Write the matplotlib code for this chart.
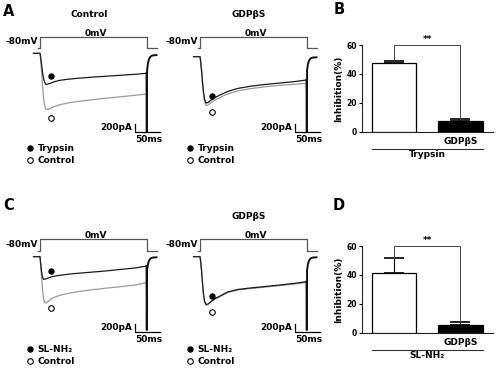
import matplotlib
matplotlib.use("Agg")
import matplotlib.pyplot as plt
from matplotlib.lines import Line2D

plt.rcParams['font.family'] = ['DejaVu Sans']
plt.rcParams['font.weight'] = 'bold'
plt.rcParams['axes.labelweight'] = 'bold'

W, H = 502, 373

# ---------------- whole-cell currents (ms, pA) ----------------
t_ms = [-13, 0, 1, 3, 5, 7, 9, 12, 16, 22, 30, 40, 55, 75, 100, 130, 160, 190, 213]

# A, control pipette: trypsin (black) vs control (gray)
a_ctrl_drug = [0, 0, -68, -268, -468, -618, -718, -780, -768, -743, -705, -675,
               -650, -625, -600, -575, -550, -525, -500]
a_ctrl_base = [0, 0, -93, -418, -793, -1093, -1293, -1405, -1405, -1368, -1325, -1285,
               -1243, -1205, -1168, -1125, -1088, -1050, -1018]
# A, GDPbS pipette
a_gdp_drug = [0, 0, -83, -333, -633, -883, -1058, -1158, -1145, -1083, -1020, -958,
              -870, -795, -740, -695, -658, -620, -583]
a_gdp_base = [0, 0, -83, -333, -658, -933, -1108, -1220, -1208, -1145, -1083, -1020,
              -933, -858, -800, -753, -715, -688, -665]
# C, control pipette: SL-NH2 (black) vs control (gray)
c_ctrl_drug = [0, 0, -133, -358, -508, -565, -565, -553, -533, -508, -483, -465,
               -440, -415, -390, -358, -320, -283, -233]
c_ctrl_base = [0, 0, -158, -483, -808, -1033, -1145, -1158, -1120, -1058, -1008, -965,
               -920, -875, -833, -790, -750, -708, -650]
# C, GDPbS pipette
c_gdp_drug = [0, 0, -83, -333, -658, -933, -1108, -1195, -1183, -1120, -1045, -983,
              -883, -820, -783, -745, -708, -665, -625]
c_gdp_base = [0, 0, -83, -333, -665, -945, -1120, -1210, -1198, -1135, -1060, -998,
              -898, -835, -798, -760, -722, -680, -640]

# tail after the step back to -80 mV
t_tail = [213, 213.6, 214.2, 216, 218, 221, 226, 233]
a_ctrl_tail = [-500, -1960, -420, -245, -145, -80, -50, -45]
a_gdp_tail = [-583, -1875, -330, -180, -95, -45, -20, -15]
c_ctrl_tail = [-233, -1833, -330, -180, -95, -45, -20, -15]
c_gdp_tail = [-625, -1833, -330, -180, -95, -45, -20, -15]

# symbols next to the traces (ms, pA): filled, open
a_ctrl_dots = ([22, 22], [-568, -1618])
a_gdp_dots = ([24, 24], [-983, -1383])
c_ctrl_dots = ([21, 21], [-358, -1290])
c_gdp_dots = ([23, 23], [-983, -1375])

# voltage protocol
prot_t = [-5, 0, 0, 213, 213, 233]
prot_mv = [-80, -80, 0, 0, -80, -80]

# ---------------- inhibition bars ----------------
bar_x = [0, 1]
bar_names = ['', 'GDP\u03b2S']
b_inhib = [47.5, 7.6]
b_sem = [1.6, 1.2]
d_inhib = [41.6, 5.3]
d_sem = [9.9, 2.3]

FS = 6.5
fig = plt.figure(figsize=(W / 100, H / 100), dpi=100)


def px_axes(x0, y0, x1, y1):
    return fig.add_axes([x0 / W, 1 - y1 / H, (x1 - x0) / W, (y1 - y0) / H])


def ftext(x, y, s, **kw):
    fig.text(x / W, 1 - y / H, s, **kw)


def trace_panel(ox, oy, ptop, pbot, drug, base, tail, dots, sb0, title=None, legend=None):
    # protocol axes (mV)
    s = (pbot - ptop) / 80.0
    axp = px_axes(ox - 20, ptop - 60 * s, ox + 130, pbot + 60 * s)
    axp.set_xlim(-40, 260)
    axp.set_ylim(-140, 60)
    axp.axis('off')
    axp.plot(prot_t, prot_mv, color='#555555', lw=0.9)
    axp.text(-5, -32, '-80mV', ha='right', va='center', fontsize=FS)
    axp.text(112, 12, '0mV', ha='center', va='baseline', fontsize=FS)

    # current axes (pA), 0.5 px per ms, 0.04 px per pA
    ax = px_axes(ox - 20, oy - 24, ox + 130, oy + 96)
    ax.set_xlim(-40, 260)
    ax.set_ylim(-2400, 600)
    ax.axis('off')
    ax.plot(t_ms, base, color='#9a9a9a', lw=0.9)
    ax.plot(t_ms, drug, color='#1a1a1a', lw=0.9)
    ax.plot(t_tail, tail, color='#111111', lw=1.4)
    ax.plot(dots[0][0], dots[1][0], 'o', color='k', ms=3.6)
    ax.plot(dots[0][1], dots[1][1], 'o', mfc='white', mec='k', mew=0.8, ms=4)

    # scale bar 50 ms / 200 pA
    ax.plot([190, 190, 240], [sb0 + 200, sb0, sb0], color='k', lw=0.9)
    ax.text(185, sb0 + 100, '200pA', ha='right', va='center', fontsize=FS)
    ax.text(190, sb0 - 90, '50ms', ha='left', va='top', fontsize=FS)

    if title:
        ftext(ox + 49, ptop - 23, title, ha='center', va='center', fontsize=FS)
    if legend:
        h = [Line2D([], [], marker='o', ls='', color='k', ms=3.6),
             Line2D([], [], marker='o', ls='', mfc='white', mec='k', mew=0.8, ms=4)]
        fig.legend(h, legend, loc='upper left', frameon=False, fontsize=FS,
                   bbox_to_anchor=(27 / W, 1 - legend_y[legend[0]] / H),
                   bbox_transform=fig.transFigure, handlelength=0.7,
                   handletextpad=0.5, borderpad=0, borderaxespad=0,
                   labelspacing=0.3)


def bar_panel(y60, y0, vals, sem, group):
    ax = px_axes(362.3, y60, 493, y0)
    ax.bar(bar_x, vals, width=0.67, color=['white', 'black'], edgecolor='black',
           linewidth=0.9, zorder=3)
    ax.errorbar(bar_x, vals, yerr=[[0, 0], sem], fmt='none', ecolor='black',
                elinewidth=0.8, capsize=7.5, capthick=1.2, zorder=2)
    ax.set_xlim(-0.486, 1.494)
    ax.set_ylim(0, 60)
    ax.set_yticks([0, 20, 40, 60])
    ax.set_xticks(bar_x, bar_names)
    for sp in ['top', 'right']:
        ax.spines[sp].set_visible(False)
    for sp in ['left', 'bottom']:
        ax.spines[sp].set_linewidth(0.8)
        ax.spines[sp].set_color('#222222')
    ax.tick_params(axis='y', direction='out', length=2.5, width=0.8, labelsize=5.5, pad=1.5)
    ax.tick_params(axis='x', length=0, labelsize=FS, pad=4)
    ax.set_ylabel('Inhibition(%)', fontsize=FS, labelpad=2)
    ax.plot([0, 0, 1, 1], [vals[0] + sem[0], 60, 60, vals[1] + sem[1]],
            color='#444444', lw=0.7, clip_on=False)
    ax.text(0.5, 60.5, '**', ha='center', va='bottom', fontsize=FS)
    ax.plot([-0.335, 1.335], [-12, -12], color='#333333', lw=0.8, clip_on=False)
    ax.text(0.5, -12.8, group, ha='center', va='top', fontsize=FS)


legend_y = {'Trypsin': 144, 'SL-NH\u2082': 345}

trace_panel(40, 53.3, 37.3, 48.3, a_ctrl_drug, a_ctrl_base, a_ctrl_tail, a_ctrl_dots,
            -1960, title='Control', legend=['Trypsin', 'Control'])
trace_panel(200, 56.7, 37.3, 48.3, a_gdp_drug, a_gdp_base, a_gdp_tail, a_gdp_dots,
            -1875, title='GDP\u03b2S', legend=None)
trace_panel(40, 256.7, 239.3, 251.3, c_ctrl_drug, c_ctrl_base, c_ctrl_tail, c_ctrl_dots,
            -1875, legend=['SL-NH\u2082', 'Control'])
trace_panel(200, 256.7, 239.3, 251.3, c_gdp_drug, c_gdp_base, c_gdp_tail, c_gdp_dots,
            -1875, title='GDP\u03b2S', legend=None)

# second-row legends under the GDPbS traces
h2 = [Line2D([], [], marker='o', ls='', color='k', ms=3.6),
      Line2D([], [], marker='o', ls='', mfc='white', mec='k', mew=0.8, ms=4)]
for lx, ly, names in [(187, 144, ['Trypsin', 'Control']), (187, 345, ['SL-NH\u2082', 'Control'])]:
    fig.legend(h2, names, loc='upper left', frameon=False, fontsize=FS,
               bbox_to_anchor=(lx / W, 1 - ly / H), bbox_transform=fig.transFigure,
               handlelength=0.7, handletextpad=0.5, borderpad=0, borderaxespad=0,
               labelspacing=0.3)

bar_panel(45, 131.7, b_inhib, b_sem, 'Trypsin')
bar_panel(246, 332.7, d_inhib, d_sem, 'SL-NH\u2082')

for lab, x, y in [('A', 9, 12), ('B', 339, 10), ('C', 9, 205), ('D', 339, 206)]:
    ftext(x, y, lab, ha='center', va='center', fontsize=10.5, fontweight='bold')

fig.savefig('out.png', dpi=100)
